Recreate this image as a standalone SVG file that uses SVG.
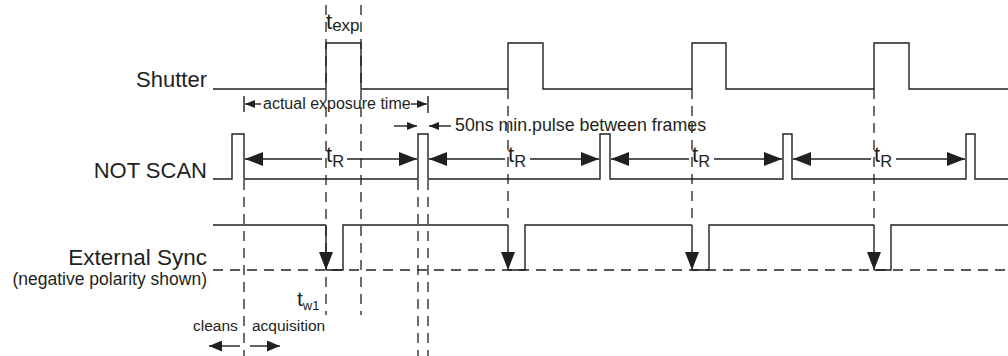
<svg xmlns="http://www.w3.org/2000/svg" width="1008" height="356" viewBox="0 0 1008 356">
<style>
.sig{fill:none;stroke:#231f20;stroke-width:1.4;stroke-linejoin:miter}
.dash{fill:none;stroke:#231f20;stroke-width:1.3;stroke-dasharray:10 7}
.arr{fill:none;stroke:#231f20;stroke-width:1.4}
text{font-family:"Liberation Sans",Arial,Helvetica,sans-serif;fill:#231f20}
.lbl{font-size:22px;text-anchor:end}
.t{font-size:22px}
</style>
<defs>
<marker id="big" markerUnits="userSpaceOnUse" markerWidth="18" markerHeight="14" refX="18" refY="7" orient="auto"><path d="M0,0 L18,7 L0,14 z" fill="#231f20"/></marker>
<marker id="med" markerUnits="userSpaceOnUse" markerWidth="13" markerHeight="11" refX="13" refY="5.5" orient="auto"><path d="M0,0 L13,5.5 L0,11 z" fill="#231f20"/></marker>
<marker id="small" markerUnits="userSpaceOnUse" markerWidth="10" markerHeight="8" refX="10" refY="4" orient="auto"><path d="M0,0 L10,4 L0,8 z" fill="#231f20"/></marker>
</defs>
<rect width="1008" height="356" fill="#ffffff"/>

<g id="labels">
<text class="lbl" x="207" y="87">Shutter</text>
<text class="lbl" x="207" y="178">NOT SCAN</text>
<text class="lbl" x="207" y="265" style="font-size:22.5px">External Sync</text>
<text class="lbl" x="207" y="285" style="font-size:17.5px">(negative polarity shown)</text>
</g>

<g id="guides">
<line class="dash" x1="326" y1="5" x2="326" y2="315"/>
<line class="dash" x1="361" y1="5" x2="361" y2="315"/>
<line class="dash" x1="244" y1="180" x2="244" y2="356"/>
<line class="dash" x1="418" y1="180" x2="418" y2="356"/>
<line class="dash" x1="428" y1="180" x2="428" y2="356"/>
<line class="dash" x1="508" y1="89" x2="508" y2="225"/>
<line class="dash" x1="692" y1="89" x2="692" y2="225"/>
<line class="dash" x1="874" y1="89" x2="874" y2="225"/>
<line class="dash" x1="213" y1="270" x2="1008" y2="270"/>
</g>

<g id="shutter">
<path class="sig" d="M213,89 H326 V43 H361 V89 H508 V43 H543 V89 H692 V43 H726 V89 H874 V43 H909 V89 H1008"/>
</g>

<g id="not-scan">
<path class="sig" d="M213,179 H232 V134 H244 V179 H418 V134 H428 V179 H600 V134 H610 V179 H783 V134 H792 V179 H966 V134 H975 V179 H1008"/>
</g>

<g id="external-sync">
<path class="sig" d="M213,225 H326 M326,270 H343 V225 H508 M508,270 H525 V225 H692 M692,270 H709 V225 H874 M874,270 H891 V225 H1008"/>
</g>

<g id="connectors">
<line class="arr" x1="326" y1="225" x2="326" y2="270" marker-end="url(#big)"/>
<line class="arr" x1="508" y1="225" x2="508" y2="270" marker-end="url(#big)"/>
<line class="arr" x1="692" y1="225" x2="692" y2="270" marker-end="url(#big)"/>
<line class="arr" x1="874" y1="225" x2="874" y2="270" marker-end="url(#big)"/>

<line class="arr" x1="322" y1="159" x2="245" y2="159" marker-end="url(#big)"/>
<line class="arr" x1="347" y1="159" x2="417" y2="159" marker-end="url(#big)"/>
<line class="arr" x1="505" y1="159" x2="429" y2="159" marker-end="url(#big)"/>
<line class="arr" x1="530" y1="159" x2="599" y2="159" marker-end="url(#big)"/>
<line class="arr" x1="689" y1="159" x2="611" y2="159" marker-end="url(#big)"/>
<line class="arr" x1="714" y1="159" x2="782" y2="159" marker-end="url(#big)"/>
<line class="arr" x1="871" y1="159" x2="793" y2="159" marker-end="url(#big)"/>
<line class="arr" x1="896" y1="159" x2="965" y2="159" marker-end="url(#big)"/>

<line class="arr" x1="244" y1="96" x2="244" y2="112"/>
<line class="arr" x1="428" y1="96" x2="428" y2="113"/>
<line class="arr" x1="261" y1="104" x2="245" y2="104" marker-end="url(#small)"/>
<line class="arr" x1="411" y1="104" x2="427" y2="104" marker-end="url(#small)"/>

<line class="arr" x1="394" y1="126" x2="417" y2="126" marker-end="url(#small)"/>
<line class="arr" x1="451" y1="126" x2="429" y2="126" marker-end="url(#small)"/>

<line class="arr" x1="240" y1="346" x2="209" y2="346" marker-end="url(#med)"/>
<line class="arr" x1="250" y1="346" x2="280" y2="346" marker-end="url(#med)"/>
</g>

<g id="annotations">
<text class="t" x="326" y="29">t<tspan style="font-size:17px" dy="2">exp</tspan></text>
<text class="t" x="326" y="162">t<tspan style="font-size:16.5px" dy="5">R</tspan></text>
<text class="t" x="508" y="162">t<tspan style="font-size:16.5px" dy="5">R</tspan></text>
<text class="t" x="692" y="162">t<tspan style="font-size:16.5px" dy="5">R</tspan></text>
<text class="t" x="874" y="162">t<tspan style="font-size:16.5px" dy="5">R</tspan></text>
<text x="297" y="306" style="font-size:21px">t<tspan style="font-size:13px" dy="4">w1</tspan></text>
<text x="263" y="109" style="font-size:16px">actual exposure time</text>
<text x="455" y="131" style="font-size:17.8px">50ns min.pulse between frames</text>
<text x="193" y="331" style="font-size:15.5px">cleans</text>
<text x="252" y="331" style="font-size:15.5px">acquisition</text>
</g>
</svg>
